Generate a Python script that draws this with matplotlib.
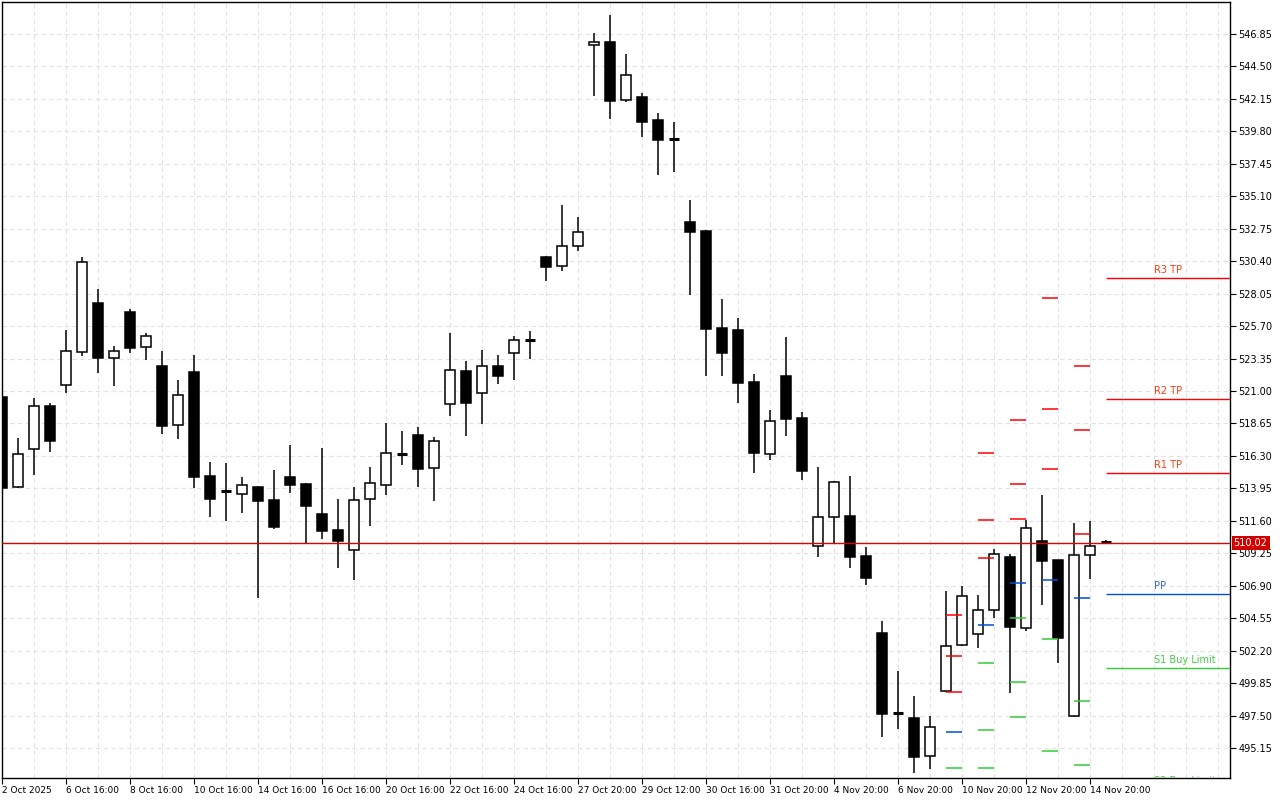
import matplotlib
matplotlib.use("Agg")
import matplotlib.pyplot as plt
from matplotlib.patches import Rectangle
import numpy as np

# --- DATA ---
opens  = [520.57, 514.05, 516.80, 519.91, 521.44, 523.82, 527.37, 523.39, 526.72, 524.19,
          522.81, 518.54, 522.38, 514.85, 513.76, 513.54, 514.05, 513.11, 514.77, 514.27,
          512.09, 510.94, 509.49, 513.18, 514.19, 516.44, 517.81, 515.42, 520.06, 522.45,
          520.86, 522.81, 523.75, 524.69, 530.70, 530.05, 531.50, 546.05, 546.27, 542.07,
          542.29, 540.62, 539.25, 533.24, 532.59, 525.56, 525.42, 521.65, 516.44, 522.09,
          519.05, 509.78, 511.88, 511.95, 509.05, 503.48, 497.68, 497.32, 494.57, 499.28,
          502.61, 503.40, 505.14, 508.98, 503.84, 510.14, 508.76, 497.46, 509.13, 510.06]
highs  = [520.70, 517.60, 520.49, 520.13, 525.42, 530.70, 528.39, 524.26, 526.94, 525.20,
          523.90, 521.80, 523.61, 515.86, 515.79, 514.77, 514.10, 515.28, 517.09, 514.34,
          516.87, 513.18, 514.05, 515.50, 518.68, 518.10, 518.39, 517.67, 525.20, 523.17,
          523.97, 523.61, 524.98, 525.34, 530.75, 534.47, 533.60, 546.92, 548.23, 545.40,
          542.58, 541.13, 540.48, 534.83, 532.65, 527.66, 526.29, 522.23, 519.62, 524.91,
          519.48, 515.50, 514.48, 514.85, 509.70, 504.35, 500.72, 498.91, 497.46, 506.52,
          506.88, 506.23, 509.56, 509.20, 511.66, 513.47, 508.80, 511.44, 511.59, 510.21]
lows   = [513.95, 514.00, 514.92, 516.58, 520.86, 523.53, 522.30, 521.36, 523.75, 523.24,
          517.89, 517.52, 513.98, 511.88, 511.59, 512.17, 506.01, 511.01, 513.61, 509.92,
          510.28, 508.18, 507.31, 511.23, 513.47, 515.64, 514.05, 513.04, 519.19, 517.74,
          518.61, 521.51, 521.80, 523.32, 528.96, 529.69, 531.14, 542.36, 540.69, 541.93,
          539.39, 536.64, 536.86, 527.95, 522.09, 522.09, 520.13, 515.06, 516.00, 517.74,
          514.55, 508.98, 509.92, 508.18, 506.95, 495.95, 496.52, 493.34, 493.63, 499.20,
          502.55, 502.39, 504.56, 499.13, 503.62, 505.50, 501.30, 497.40, 507.39, 510.02]
closes = [513.98, 516.44, 519.91, 517.38, 523.90, 530.34, 523.39, 523.90, 524.11, 524.98,
          518.47, 520.71, 514.77, 513.18, 513.61, 514.19, 513.04, 511.15, 514.19, 512.67,
          510.86, 510.14, 513.11, 514.34, 516.51, 516.44, 515.35, 517.38, 522.52, 520.13,
          522.81, 522.09, 524.69, 524.84, 529.98, 531.50, 532.51, 546.27, 542.00, 543.88,
          540.48, 539.18, 539.25, 532.51, 525.49, 523.75, 521.58, 516.51, 518.83, 518.97,
          515.21, 511.88, 514.41, 508.98, 507.46, 497.61, 497.68, 494.50, 496.67, 502.54,
          506.16, 505.14, 509.20, 503.91, 511.08, 508.69, 503.11, 509.13, 509.78, 510.02]

tick_labels = ["2 Oct 2025", "6 Oct 16:00", "8 Oct 16:00", "10 Oct 16:00", "14 Oct 16:00",
               "16 Oct 16:00", "20 Oct 16:00", "22 Oct 16:00", "24 Oct 16:00", "27 Oct 20:00",
               "29 Oct 12:00", "30 Oct 16:00", "31 Oct 20:00", "4 Nov 20:00", "6 Nov 20:00",
               "10 Nov 20:00", "12 Nov 20:00", "14 Nov 20:00"]

# daily pivot history: start index of segment, level prices by colour
pivot_starts = [59, 61, 63, 65, 67]
pivot_red    = [[504.78, 501.81, 499.20], [516.51, 511.66, 508.91], [518.90, 514.27, 511.73],
                [527.73, 519.70, 515.35], [522.81, 518.18, 510.65]]
pivot_blue   = [496.31, 504.06, 507.10, 507.31, 506.01]
pivot_green  = [[493.70], [501.30, 496.45, 493.70], [504.56, 499.93, 497.39],
                [503.04, 494.93], [498.55, 493.92]]

level_names  = ["R3 TP", "R2 TP", "R1 TP", "PP", "S1 Buy Limit", "S2 Buy Limit"]
level_prices = [529.18, 520.42, 515.06, 506.30, 500.94, 492.15]
line_colors  = ["#ff0000", "#0050d0", "#ff0000", "#0050d0", "#33cc33", "#33cc33"]
text_colors  = ["#ff3a10", "#ff3a10", "#ff3a10", "#3366dd", "#44cc44", "#44cc44"]
line_colors[1] = "#ff0000"

current_price = 510.02
y_ticks = [546.85, 544.50, 542.15, 539.80, 537.45, 535.10, 532.75, 530.40, 528.05, 525.70,
           523.35, 521.00, 518.65, 516.30, 513.95, 511.60, 509.25, 506.90, 504.55, 502.20,
           499.85, 497.50, 495.15]

RED  = "#ff0000"
BLUE = "#0050d0"
GRN  = "#33cc33"

fig = plt.figure(figsize=(12.8, 8), dpi=100)
ax = fig.add_axes([2 / 1280, 22 / 800, 1228 / 1280, 776 / 800])
ax.set_facecolor("white")

n = len(opens)
x = np.arange(n)
ax.set_xlim(0, 76.75)
ax.set_ylim(492.98, 549.17)

# grid
for gx in range(0, 77, 2):
    ax.axvline(gx, color="#e2e2e2", lw=0.8, ls=(0, (4, 3)), zorder=0)
for gy in y_ticks:
    ax.axhline(gy, color="#e2e2e2", lw=0.8, ls=(0, (4, 3)), zorder=0)

# candles
bw = 0.62
for i in range(n):
    o, h, l, c = opens[i], highs[i], lows[i], closes[i]
    ax.vlines(x[i], l, h, color="black", lw=1.1, zorder=2)
    lo, hi = min(o, c), max(o, c)
    if hi - lo < 0.15:
        ax.hlines(o, x[i] - bw / 2, x[i] + bw / 2, color="black", lw=2.2, zorder=3)
        continue
    face = "black" if c < o else "white"
    ax.add_patch(Rectangle((x[i] - bw / 2, lo), bw, hi - lo, facecolor=face,
                           edgecolor="black", lw=1.1, zorder=3))

# pivot history dashes
for k, s in enumerate(pivot_starts):
    for p in pivot_red[k]:
        ax.hlines(p, s, s + 1, color=RED, lw=1.1, zorder=4)
    ax.hlines(pivot_blue[k], s, s + 1, color=BLUE, lw=1.1, zorder=4)
    for p in pivot_green[k]:
        ax.hlines(p, s, s + 1, color=GRN, lw=1.1, zorder=4)

# current levels
for name, p, lc, tc in zip(level_names, level_prices, line_colors, text_colors):
    ax.hlines(p, 69, 76.75, color=lc, lw=1.0, zorder=4)
    ax.text(72.0, p + 0.25, name, color=tc, fontsize=7, va="bottom", ha="left",
            clip_on=True, zorder=5)

# current price line
ax.axhline(current_price, color="#e00000", lw=1.0, zorder=4)

# axes styling
for side in ["left", "top", "right", "bottom"]:
    ax.spines[side].set_linewidth(1.0)
    ax.spines[side].set_color("black")
ax.yaxis.tick_right()
ax.set_yticks(y_ticks)
ax.set_yticklabels([f"{v:.2f}" for v in y_ticks], fontsize=7)
ax.tick_params(axis="y", length=4, pad=2)

ax.set_xticks(np.arange(0, 69, 4))
ax.set_xticklabels(tick_labels, fontsize=6.5, ha="left")
ax.tick_params(axis="x", length=4, pad=2)

# price tag
ax.text(1.003, (current_price - 492.98) / (549.17 - 492.98), f"{current_price:.2f}",
        transform=ax.transAxes, fontsize=7, color="white", va="center", ha="left",
        bbox=dict(boxstyle="square,pad=0.2", facecolor="#d00000", edgecolor="none"),
        zorder=6, clip_on=False)

fig.savefig("out.png", dpi=100, facecolor="white")
plt.close(fig)
